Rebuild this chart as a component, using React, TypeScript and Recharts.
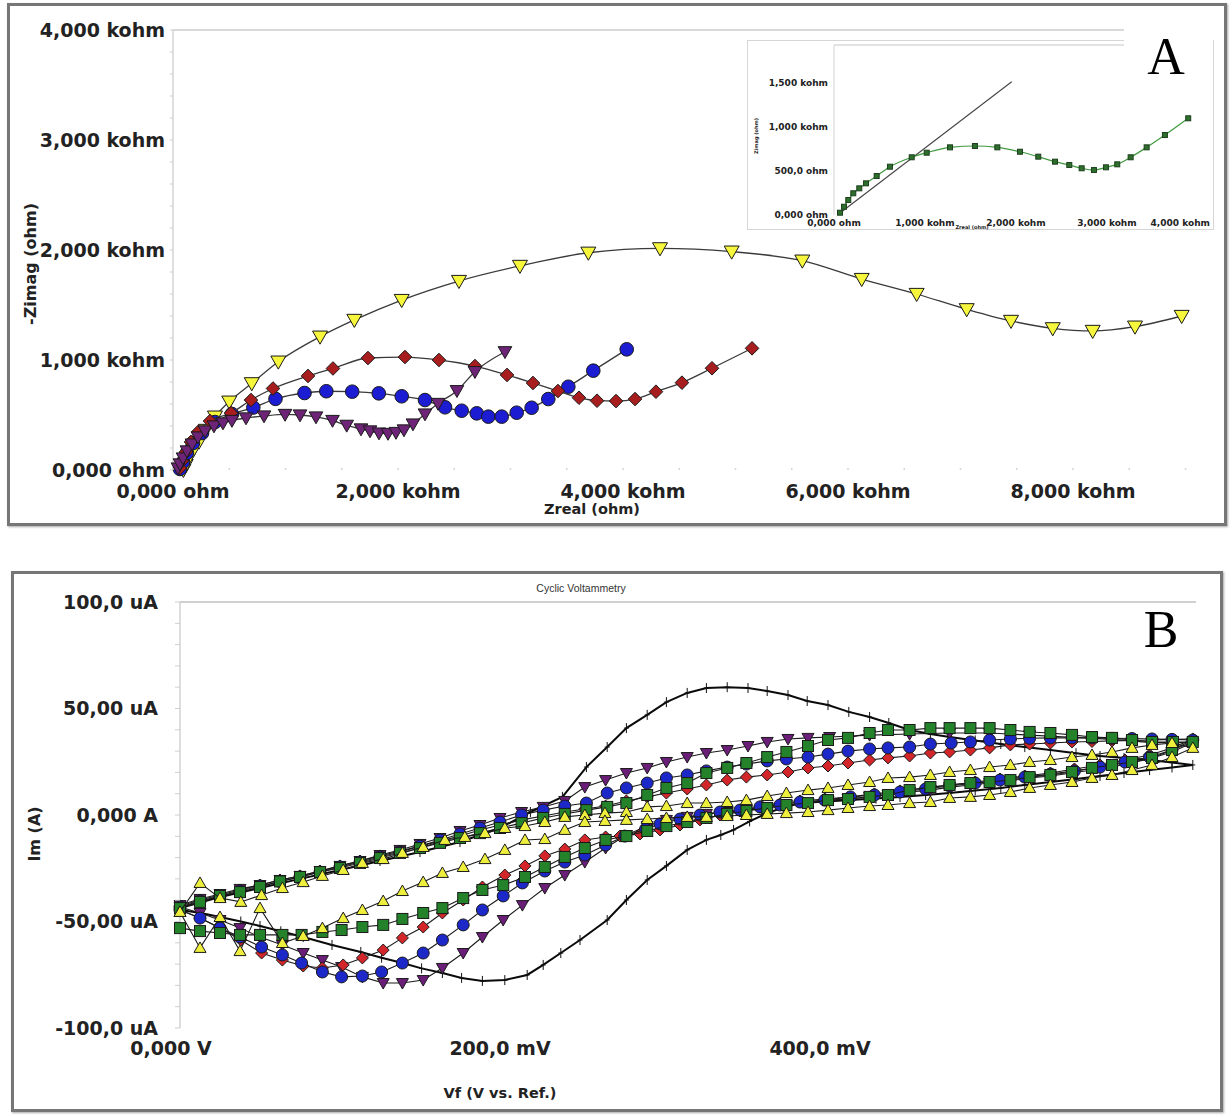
import React from "react"
import { ScatterChart, Scatter, XAxis, YAxis, ReferenceLine } from "recharts"

type Pt = [number, number]

// ---------- A: Nyquist plot, values in kohm ----------
const A_X_TICKS = [0, 500, 1000, 1500, 2000, 2500, 3000, 3500, 4000, 4500, 5000, 5500, 6000, 6500, 7000, 7500, 8000, 8500, 9000]
const A_Y_TICKS = [0, 200, 400, 600, 800, 1000, 1200, 1400, 1600, 1800, 2000, 2200, 2400, 2600, 2800, 3000, 3200, 3400, 3600, 3800, 4000]
const A_X_LABELS: Record<number, string> = { 0: "0,000 ohm", 2000: "2,000 kohm", 4000: "4,000 kohm", 6000: "6,000 kohm", 8000: "8,000 kohm" }
const A_Y_LABELS: Record<number, string> = { 0: "0,000 ohm", 1000: "1,000 kohm", 2000: "2,000 kohm", 3000: "3,000 kohm", 4000: "4,000 kohm" }

const YELLOW_A: Pt[] = [[92, 0], [113, 45], [136, 106], [180, 182], [231, 257], [291, 364], [373, 485], [500, 621], [700, 788], [936, 985], [1307, 1212], [1612, 1364], [2033, 1545], [2542, 1718], [3084, 1855], [3692, 1975], [4329, 2015], [4966, 1985], [5594, 1903], [6122, 1736], [6610, 1600], [7055, 1461], [7449, 1355], [7820, 1288], [8175, 1264], [8551, 1303], [8966, 1400]]
const BLUE_A: Pt[] = [[62, 9], [89, 73], [124, 155], [178, 245], [258, 336], [373, 436], [524, 509], [714, 568], [911, 647], [1169, 700], [1363, 716], [1593, 712], [1829, 697], [2033, 670], [2240, 636], [2418, 570], [2566, 539], [2700, 515], [2803, 485], [2922, 485], [3055, 521], [3188, 566], [3336, 645], [3514, 757], [3736, 903], [4033, 1097]]
const RED_A: Pt[] = [[62, 18], [80, 82], [116, 164], [160, 255], [222, 345], [329, 445], [516, 518], [693, 636], [889, 741], [1200, 855], [1422, 923], [1733, 1018], [2062, 1027], [2364, 1000], [2684, 945], [2969, 864], [3200, 791], [3422, 718], [3609, 657], [3769, 630], [3938, 627], [4107, 645], [4293, 712], [4524, 794], [4791, 925], [5147, 1106]]
const PURPLE_A: Pt[] = [[44, 18], [62, 55], [89, 109], [124, 173], [169, 236], [222, 300], [284, 355], [364, 400], [444, 427], [524, 450], [649, 473], [809, 491], [996, 505], [1129, 500], [1271, 482], [1418, 450], [1544, 406], [1671, 373], [1751, 355], [1831, 336], [1911, 332], [1982, 341], [2053, 364], [2133, 418], [2240, 509], [2356, 605], [2524, 721], [2684, 894], [2951, 1075]]

// inset of A
const IN_X_TICKS = [0, 1000, 2000, 3000, 4000]
const IN_Y_TICKS = [0, 500, 1000, 1500]
const IN_X_LABELS: Record<number, string> = { 0: "0,000 ohm", 1000: "1,000 kohm", 2000: "2,000 kohm", 3000: "3,000 kohm", 4000: "4,000 kohm" }
const IN_Y_LABELS: Record<number, string> = { 0: "0,000 ohm", 500: "500,0 ohm", 1000: "1,000 kohm", 1500: "1,500 kohm" }
const GREEN_INSET: Pt[] = [[66, 26], [110, 94], [157, 170], [212, 247], [278, 303], [352, 360], [469, 443], [615, 549], [854, 656], [1019, 708], [1275, 769], [1549, 784], [1795, 769], [2044, 719], [2245, 663], [2429, 606], [2586, 568], [2722, 531], [2857, 511], [2989, 542], [3113, 576], [3260, 656], [3436, 769], [3637, 909], [3893, 1099]]
const FIT_INSET: Pt[] = [[66, 23], [1953, 1515]]

// ---------- B: cyclic voltammetry, mV vs uA ----------
const B_X_TICKS = [0, 200, 400]
const B_X_LABELS: Record<number, string> = { 0: "0,000 V", 200: "200,0 mV", 400: "400,0 mV" }
const B_Y_TICKS = [-100, -90, -80, -70, -60, -50, -40, -30, -20, -10, 0, 10, 20, 30, 40, 50, 60, 70, 80, 90, 100]
const B_Y_LABELS: Record<number, string> = { [-100]: "-100,0 uA", [-50]: "-50,00 uA", 0: "0,000 A", 50: "50,00 uA", 100: "100,0 uA" }

const BLACK_B: Pt[] = [
  [0, -43.7], [25, -38.5], [50, -34.3], [75, -30], [100, -25.8], [125, -21.6], [150, -17.4], [175, -12.7], [200, -6.1], [219, 1.4], [239, 8.5], [254, 22.5], [267, 31.9], [279, 40.8], [292, 47], [304, 53], [317, 57.3], [329, 59.6], [342, 60], [355, 59.6], [367, 58.2], [380, 56.3], [392, 53.5], [405, 51.6], [418, 48.4], [431, 46], [443, 43.2], [456, 39.9], [469, 38], [481, 36.6], [497, 35], [513, 33.3], [528, 31.9], [544, 30.5], [560, 29], [575, 27.7], [590, 26.8], [606, 25.8], [620, 24.6], [633, 23.5],
  [620, 22.3], [606, 21.1], [590, 19.7], [575, 18.3], [560, 16.9], [544, 15.5], [528, 14.1], [513, 12.7], [497, 11.5], [481, 10.3], [466, 9.4], [450, 8.5], [435, 7.7], [419, 7], [404, 6.3], [388, 5.6], [377, 3.5], [367, 0.9], [356, -3], [346, -7], [338, -9.4], [329, -11.7], [317, -16.4], [304, -23.9], [292, -30.5], [279, -39.9], [267, -49.3], [250, -58.7], [238, -64.8], [227, -70.4], [217, -75.1], [203, -77.5], [189, -77.9], [176, -76.5], [164, -74.2], [151, -72], [139, -69.5], [126, -67], [113, -64.3], [95, -61], [77, -57.3], [63, -54.6], [50, -52.1], [38, -50], [25, -47.9], [13, -46], [0, -44.6],
]
const PURPLE_B: Pt[] = [
  [0, -42.3], [12.5, -39.4], [25, -37.1], [37.5, -34.7], [50, -32.9], [62.5, -30.5], [75, -28.6], [87.5, -26.3], [100, -23.9], [112.5, -21.6], [125, -18.8], [137.5, -16.4], [150, -13.6], [162.5, -10.8], [175, -7.5], [187.5, -4.7], [200, -1.4], [213.5, 1.4], [227, 3.8], [240.5, 6.6], [253, 13.1], [266, 16.4], [279, 19.7], [292, 22.1], [304, 24.9], [317, 27.2], [329, 29.1], [342, 30.5], [355, 32.4], [367, 34.3], [380, 35.7], [392.5, 36.2], [406, 36.6], [431, 37.5], [456, 38], [481, 38.5], [506, 38.5], [531, 37.5], [557.5, 36.5], [582.5, 35.5], [607.5, 34], [633, 34],
  [620, 29.6], [607.5, 26.8], [595, 24.4], [582.5, 22.5], [570, 21.1], [557.5, 19.7], [544, 18.3], [531, 17.4], [519, 16], [506, 15], [494, 14.1], [481, 13.1], [469, 11.7], [456, 10.8], [442.5, 9.4], [431, 8.5], [417.5, 7.5], [405, 6.6], [392.5, 5.6], [379, 4.7], [367, 3.3], [354, 2.3], [342, 1.4], [329, 0.5], [317, -0.9], [304, -2.3], [292, -5.2], [279, -9.4], [266, -15.5], [253, -22.1], [240.5, -28.2], [228, -34.3], [214, -42.3], [202, -49.3], [189, -57.3], [177, -64.8], [164, -71.8], [152, -77.5], [139, -78.9], [127, -78.9], [114, -76], [101, -71.4], [89, -68.1], [77, -64.8], [64, -61], [50, -57.3], [37.5, -53.1], [25, -49.3], [12.5, -46], [0, -43.2],
]
const RED_B: Pt[] = [
  [0, -42.7], [12.5, -39.9], [25, -37.6], [37.5, -35.2], [50, -32.9], [62.5, -30.5], [75, -28.6], [87.5, -26.3], [100, -23.9], [112.5, -21.6], [125, -19.2], [137.5, -16.9], [150, -14.6], [162.5, -12.2], [175, -9.9], [187.5, -7], [200, -4.7], [213.5, -2.3], [227, -0.5], [240.5, 1.4], [253, 2.8], [266, 4.2], [279, 6.6], [292, 8.5], [304, 10.3], [317, 12.2], [329, 14.1], [342, 16.4], [354, 17.8], [367, 18.8], [380, 20.2], [392.5, 22.1], [405, 23], [417.5, 24.4], [431, 25.8], [442.5, 26.8], [456, 27.7], [469, 29.1], [481, 29.6], [494, 30.5], [506, 31.5], [519, 32.9], [531, 33.3], [544, 33.8], [557.5, 34.3], [570, 34.5], [582.5, 34.8], [595, 35], [607.5, 35.2], [620, 35.5], [633, 35.7],
  [620, 31.5], [606, 28.2], [590.6, 25.8], [575, 23.5], [559, 21.6], [544, 19.7], [528, 18.3], [512.5, 16.9], [497, 15.5], [481, 14.1], [466, 12.7], [450, 11.3], [434, 9.9], [419, 8.5], [403, 7.5], [387.5, 6.6], [375, 5.2], [362.5, 3.8], [350, 1.9], [337.5, 0], [325, -2.3], [312.5, -4.7], [300, -7], [287.5, -8.9], [275, -9.9], [266, -10.3], [253, -11.7], [240.5, -16], [228, -19.2], [215.6, -23.9], [203, -28.2], [189, -33.8], [177, -39.9], [164, -46], [152, -52.6], [139, -57.7], [127, -63.4], [114, -67.1], [102, -70.4], [89, -71.8], [77, -70.9], [64, -68.1], [51, -64.8], [38, -58.7], [25, -53.1], [12.5, -48.4], [0, -44.6],
]
const BLUE_B: Pt[] = [
  [0, -43.2], [12.5, -40.4], [25, -38], [37.5, -35.7], [50, -33.3], [62.5, -31.2], [75, -29.1], [87.5, -26.8], [100, -24.4], [112.5, -22.1], [125, -19.7], [137.5, -17.4], [150, -14.6], [162.5, -11.7], [175, -8.9], [187.5, -6.1], [200, -3.3], [213.5, 0], [227, 2.3], [240.5, 4.2], [254, 5.6], [267, 10.3], [279, 12.7], [292, 15], [304, 17.4], [317, 18.8], [329, 20.7], [342, 22.5], [354, 23.9], [367, 25.4], [379, 26.3], [392.5, 27.2], [405, 28.6], [417.5, 30], [431, 31], [442.5, 31.5], [456, 31.9], [469, 33.3], [482, 33.8], [494, 34.3], [506, 35.2], [519, 35.7], [531, 36], [544, 36.2], [557.5, 36.2], [570, 36.2], [582.5, 36], [595, 35.9], [607.5, 35.7], [620, 35.5], [633, 35.2],
  [620, 30.5], [606, 27.2], [590.6, 24.9], [575, 22.5], [559, 20.7], [544, 19.2], [528, 17.8], [512.5, 16.4], [497, 15], [481, 13.6], [466, 12.2], [450, 10.8], [434, 9.4], [419, 8.5], [403, 7], [387.5, 6.1], [375, 4.7], [362.5, 3.8], [350, 2.3], [337.5, 1.4], [325, 0], [312.5, -1.9], [300, -4.2], [291, -6.6], [278, -9.9], [266, -14.1], [253, -18.8], [240.5, -22.1], [228, -26.3], [214, -31.9], [202, -38], [189, -44.6], [177, -51.6], [164, -58.7], [152, -64.8], [139, -69.5], [126, -73.7], [114, -75.6], [101, -76], [89, -73.7], [76, -69.5], [64, -65.7], [51, -62], [37.5, -57.3], [25, -53.1], [12.5, -48.4], [0, -44.6],
]
const GREEN_B: Pt[] = [
  [0, -43.7], [12.5, -40.8], [25, -38], [37.5, -36.2], [50, -33.8], [62.5, -31.2], [75, -29.1], [87.5, -26.8], [100, -24.9], [112.5, -22.5], [125, -20.2], [137.5, -17.8], [150, -15.5], [162.5, -13.1], [175, -10.8], [187.5, -8.5], [200, -6.1], [213.5, -3.8], [227, -1.4], [240.5, 0.5], [254, 2.3], [267, 3.8], [279, 5.6], [292, 9.4], [304, 12.7], [317, 15], [329, 19.7], [342, 22.1], [354, 24.4], [367, 27.2], [379, 29.6], [392.5, 32.4], [405, 35.2], [417.5, 36.2], [431, 38.5], [442.5, 39.9], [456, 39.9], [469, 40.8], [481, 40.8], [494, 40.8], [506, 40.8], [519, 39.9], [531, 39], [544, 38.5], [557.5, 37.6], [570, 36.6], [582.5, 36.2], [595, 35.2], [607.5, 34.3], [620.6, 34.3], [633, 34.3],
  [620, 30.5], [607.5, 26.8], [595, 24.9], [582.5, 23.5], [570, 22.1], [557.5, 20.2], [544, 18.8], [531, 17.8], [519, 16.4], [506, 15.5], [494, 15], [481, 14.1], [469, 13.1], [456, 11.7], [442.5, 9.4], [431, 8.5], [417.5, 7.5], [405, 7], [392.5, 5.6], [379, 4.7], [367, 3.3], [354, 1.9], [342, 0.5], [329, -1.4], [317, -3.3], [304, -5.2], [292, -7.5], [279, -9.9], [266, -11.7], [253, -15.5], [240.5, -19.7], [228, -24.4], [215.6, -29.1], [202, -32.9], [189, -35.2], [177, -39], [164, -43.7], [152, -46], [139, -48.8], [127, -51.6], [114, -52.6], [101, -54], [89, -54.9], [76, -56.3], [64, -56.3], [50, -56.3], [37.5, -56.3], [25, -55.4], [12.5, -54.5], [0, -53.1],
]
const YELLOW_B: Pt[] = [
  [0, -45.5], [12.5, -31.9], [25, -39], [38, -40.8], [51, -37.6], [64, -34.3], [77, -31.5], [89, -28.6], [102, -25.8], [114, -22.5], [127, -20.7], [139, -17.8], [152, -15], [165.6, -11.7], [178, -10.3], [190.6, -8.5], [203, -6.1], [215.6, -5.2], [228, -3.3], [240.5, -0.9], [253, 0], [265.6, 0.9], [279, 1.4], [292, 3.8], [304, 4.2], [317, 5.6], [329, 5.6], [342, 6.1], [354, 7], [367, 8.9], [379, 10.3], [392.5, 11.7], [405, 12.7], [417.5, 14.1], [431, 15.5], [442.5, 17.4], [456, 17.8], [469, 18.8], [481, 20.2], [494, 21.1], [506, 22.5], [519, 23.5], [531, 24.9], [544, 25.8], [557.5, 27.2], [570, 28.2], [582.5, 29.6], [595, 31.5], [607.5, 32.9], [620, 33.8], [633, 31.5],
  [620, 27.2], [607.5, 23.5], [595, 21.1], [582.5, 18.8], [570, 17.4], [557.5, 15.5], [544, 14.1], [531, 12.7], [519, 10.8], [506, 9.4], [494, 8.5], [481, 8], [469, 6.1], [456, 5.6], [442.5, 4.7], [431, 4.2], [417.5, 3.3], [405, 2.3], [392.5, 1.4], [379, 0.9], [367, 0.5], [354, 0], [342, -0.5], [329, -0.9], [317, -0.9], [304, -1.4], [292, -1.9], [279, -2.3], [265.6, -2.8], [253, -3.3], [240.5, -7], [228, -11.3], [215.6, -11.7], [203, -16.4], [190.6, -20.7], [177, -24.4], [164, -27.2], [152, -31.5], [139, -35.7], [127, -40.4], [114, -44.6], [102, -48.4], [89, -53.1], [77, -56.8], [64, -60.1], [50, -43.7], [37.5, -63.9], [25, -47.9], [12.5, -62.4], [0, -45.5],
]

const SANS = "'DejaVu Sans', Verdana, sans-serif"
const SERIF = "'Liberation Serif', 'DejaVu Serif', serif"
const INK = "#222"
const EDGE = "#1a1a1a"

const xy = (pts: Pt[]) => pts.map(([x, y]) => ({ x, y }))

// marker shapes
const downTri = (fill: string, r: number) => (p: any) => (
  <path d={`M${p.cx - r},${p.cy - r * 0.75}L${p.cx + r},${p.cy - r * 0.75}L${p.cx},${p.cy + r}Z`} fill={fill} stroke={EDGE} strokeWidth={1} />
)
const upTri = (fill: string, r: number) => (p: any) => (
  <path d={`M${p.cx - r},${p.cy + r * 0.75}L${p.cx + r},${p.cy + r * 0.75}L${p.cx},${p.cy - r}Z`} fill={fill} stroke={EDGE} strokeWidth={1} />
)
const dot = (fill: string, r: number) => (p: any) => <circle cx={p.cx} cy={p.cy} r={r} fill={fill} stroke={EDGE} strokeWidth={1} />
const diamond = (fill: string, r: number) => (p: any) => (
  <path d={`M${p.cx},${p.cy - r}L${p.cx + r},${p.cy}L${p.cx},${p.cy + r}L${p.cx - r},${p.cy}Z`} fill={fill} stroke={EDGE} strokeWidth={1} />
)
const square = (fill: string, r: number, edge = EDGE) => (p: any) => (
  <rect x={p.cx - r} y={p.cy - r} width={2 * r} height={2 * r} fill={fill} stroke={edge} strokeWidth={1} />
)
const plus = (r: number) => (p: any) => (
  <path d={`M${p.cx},${p.cy - r}V${p.cy + r}M${p.cx - r * 0.5},${p.cy}H${p.cx + r * 0.5}`} stroke="#111" strokeWidth={1} fill="none" />
)
const nothing = () => <g />

// axis ticks: short light mark on every tick, text only where a label exists
const yTick = (labels: Record<number, string>, gap: number, size: number, mark: number) => (p: any) => {
  const lab = labels[p.payload.value]
  return (
    <g>
      <line x1={p.x - mark} x2={p.x} y1={p.y} y2={p.y} stroke="#cfcfcf" strokeWidth={1} />
      {lab ? (
        <text x={p.x - gap} y={p.y} dy="0.36em" textAnchor="end" fontFamily={SANS} fontWeight="bold" fontSize={size} fill={INK}>
          {lab}
        </text>
      ) : null}
    </g>
  )
}
// endAt: value whose label is right-aligned so it stays inside a narrow frame
const xTick = (labels: Record<number, string>, gap: number, size: number, mark: number, firstShift = 0, endAt?: number) => (p: any) => {
  const v = p.payload.value
  const lab = labels[v]
  const atEnd = endAt !== undefined && v === endAt
  return (
    <g>
      {mark > 0 ? <line x1={p.x} x2={p.x} y1={p.y - mark} y2={p.y} stroke="#d6d6d6" strokeWidth={1.5} /> : null}
      {lab ? (
        <text x={p.x + (v === 0 ? firstShift : 0) + (atEnd ? 12 : 0)} y={p.y + gap} dy="0.36em" textAnchor={atEnd ? "end" : "middle"} fontFamily={SANS} fontWeight="bold" fontSize={size} fill={INK}>
          {lab}
        </text>
      ) : null}
    </g>
  )
}

const boxStyle = (left: number, top: number, width: number, height: number): React.CSSProperties => ({
  position: "absolute",
  left,
  top,
  width,
  height,
  boxSizing: "border-box",
  border: "3px solid #767676",
  boxShadow: "1px 1px 2px rgba(0,0,0,0.35)",
})

function Label({ x, y, size, children, rotate = false, weight = "bold", family = SANS, color = INK }: any) {
  return (
    <div
      style={{
        position: "absolute",
        left: x,
        top: y,
        transform: `translate(-50%, -50%)${rotate ? " rotate(-90deg)" : ""}`,
        fontSize: size,
        fontWeight: weight,
        fontFamily: family,
        color,
        whiteSpace: "nowrap",
        lineHeight: 1,
      }}
    >
      {children}
    </div>
  )
}

const A_LINE = { stroke: "#3a3a3a", strokeWidth: 1.3, fill: "none" }
const B_LINE = { stroke: "#1a1a1a", strokeWidth: 1.1, fill: "none" }

export default function App() {
  return (
    <div style={{ position: "absolute", left: 0, top: 0, width: 1232, height: 1117, background: "#fff", overflow: "hidden" }}>
      {/* panel A */}
      <div style={boxStyle(7, 3, 1220, 523)} />
      <div style={{ position: "absolute", left: 0, top: 0 }}>
        <ScatterChart width={1232} height={530} margin={{ top: 30, right: 24, bottom: 0, left: 0 }}>
          <XAxis type="number" dataKey="x" domain={[0, 9200]} ticks={A_X_TICKS} interval={0} height={60} tickSize={0} tickMargin={0} axisLine={false} tickLine={false} tick={xTick(A_X_LABELS, 21, 19, 2)} />
          <YAxis type="number" dataKey="y" domain={[0, 4000]} ticks={A_Y_TICKS} interval={0} width={173} tickSize={0} tickMargin={0} axisLine={{ stroke: "#d4d4d4", strokeWidth: 1.5 }} tickLine={false} tick={yTick(A_Y_LABELS, 8, 19, 3)} />
          <ReferenceLine y={4000} stroke="#d9d9d9" strokeWidth={2} />
          <Scatter data={xy(YELLOW_A)} line={A_LINE} lineJointType="monotoneX" shape={downTri("#f6f63c", 7.5)} isAnimationActive={false} />
          <Scatter data={xy(BLUE_A)} line={A_LINE} lineJointType="monotoneX" shape={dot("#1c1cd2", 6.8)} isAnimationActive={false} />
          <Scatter data={xy(RED_A)} line={A_LINE} lineJointType="monotoneX" shape={diamond("#a81e1e", 6.8)} isAnimationActive={false} />
          <Scatter data={xy(PURPLE_A)} line={A_LINE} lineJointType="monotoneX" shape={downTri("#6e2476", 6.8)} isAnimationActive={false} />
        </ScatterChart>
      </div>
      <Label x={592} y={509} size={14.5}>Zreal (ohm)</Label>
      <Label x={31} y={264} size={16} rotate>-Zimag (ohm)</Label>

      {/* inset of A */}
      <div style={{ position: "absolute", left: 747, top: 40, width: 467, height: 190, boxSizing: "border-box", border: "1px solid #d6d6d6", background: "#fff" }} />
      <div style={{ position: "absolute", left: 748, top: 41 }}>
        <ScatterChart width={465} height={188} margin={{ top: 4, right: 10.5, bottom: 0, left: 0 }}>
          <XAxis type="number" dataKey="x" domain={[0, 4050]} ticks={IN_X_TICKS} interval={0} height={14} tickSize={0} tickMargin={0} axisLine={false} tickLine={false} tick={xTick(IN_X_LABELS, 8, 9, 0, 0, 4000)} />
          <YAxis type="number" dataKey="y" domain={[0, 1932]} ticks={IN_Y_TICKS} interval={0} width={86} tickSize={0} tickMargin={0} axisLine={{ stroke: "#d4d4d4", strokeWidth: 1 }} tickLine={false} tick={yTick(IN_Y_LABELS, 6, 9, 0)} />
          <ReferenceLine y={1932} stroke="#dadada" strokeWidth={1.5} />
          <Scatter data={xy(FIT_INSET)} line={{ stroke: "#444", strokeWidth: 1.1, fill: "none" }} shape={nothing} isAnimationActive={false} />
          <Scatter data={xy(GREEN_INSET)} line={{ stroke: "#3f9a3f", strokeWidth: 1.2, fill: "none" }} lineJointType="monotoneX" shape={square("#2d6e2d", 2.5, "#1d3f1d")} isAnimationActive={false} />
        </ScatterChart>
      </div>
      <Label x={756} y={136} size={5} rotate>Zimag (ohm)</Label>
      <Label x={972} y={227} size={5}>Zreal (ohm)</Label>
      <div style={{ position: "absolute", left: 1124, top: 27, width: 89, height: 60, background: "#fff" }} />
      <Label x={1166} y={57} size={52} weight="normal" family={SERIF} color="#000">A</Label>

      {/* panel B */}
      <div style={boxStyle(11, 571, 1212, 541)} />
      <div style={{ position: "absolute", left: 0, top: 560 }}>
        <ScatterChart width={1232} height={520} margin={{ top: 42, right: 36, bottom: 0, left: 0 }}>
          <XAxis type="number" dataKey="x" domain={[0, 635]} ticks={B_X_TICKS} interval={0} height={52} tickSize={0} tickMargin={0} axisLine={false} tickLine={false} tick={xTick(B_X_LABELS, 20, 19, 0, -9)} />
          <YAxis type="number" dataKey="y" domain={[-100, 100]} ticks={B_Y_TICKS} interval={0} width={180} tickSize={0} tickMargin={0} axisLine={{ stroke: "#d2d2d2", strokeWidth: 1.5 }} tickLine={false} tick={yTick(B_Y_LABELS, 22, 19, 5)} />
          <ReferenceLine y={100} stroke="#d0d0d0" strokeWidth={2} />
          <Scatter data={xy(BLACK_B)} line={{ stroke: "#0a0a0a", strokeWidth: 2, fill: "none" }} shape={plus(5)} isAnimationActive={false} />
          <Scatter data={xy(PURPLE_B)} line={B_LINE} shape={downTri("#6a1e78", 6)} isAnimationActive={false} />
          <Scatter data={xy(RED_B)} line={B_LINE} shape={diamond("#d3262a", 6)} isAnimationActive={false} />
          <Scatter data={xy(BLUE_B)} line={B_LINE} shape={dot("#1c28c8", 6)} isAnimationActive={false} />
          <Scatter data={xy(GREEN_B)} line={B_LINE} shape={square("#23822a", 5.5)} isAnimationActive={false} />
          <Scatter data={xy(YELLOW_B)} line={B_LINE} shape={upTri("#eeee3c", 6)} isAnimationActive={false} />
        </ScatterChart>
      </div>
      <Label x={581} y={588} size={10.5} weight="normal" family="'Liberation Sans', Arial, sans-serif" color="#333">Cyclic Voltammetry</Label>
      <Label x={35} y={834} size={16} rotate>Im (A)</Label>
      <Label x={500} y={1093} size={14.5}>Vf (V vs. Ref.)</Label>
      <Label x={1161} y={630} size={52} weight="normal" family={SERIF} color="#000">B</Label>
    </div>
  )
}
